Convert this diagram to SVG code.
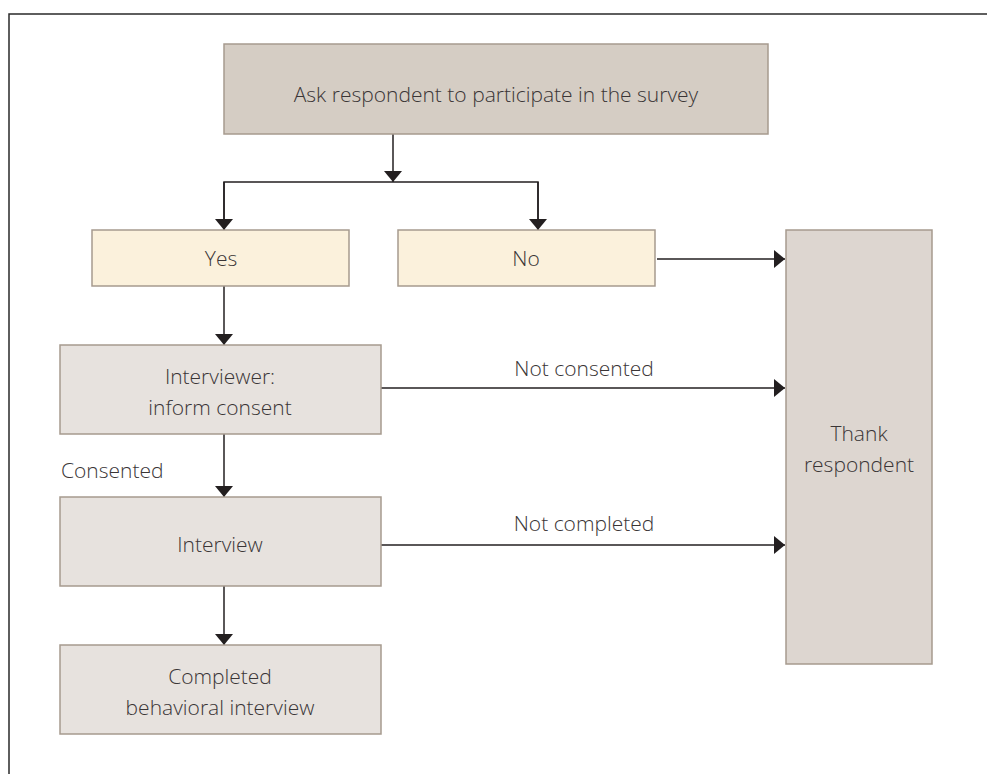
<svg xmlns="http://www.w3.org/2000/svg" width="987" height="774" viewBox="0 0 987 774">
<style>
text{font-family:"Open Sans","Liberation Sans",sans-serif;font-weight:300;font-size:21px;fill:#3a3536;text-anchor:middle}
.lbl{text-anchor:start}
.box{stroke:#a69a8e;stroke-width:1.5}
.top{fill:#d5cdc4}
.yn{fill:#fbf1dc}
.mid{fill:#e7e2de}
.thank{fill:#ddd6d0}
.ln{fill:none;stroke:#231f20;stroke-width:1.5}
</style>
<defs>
<marker id="ah" markerWidth="11" markerHeight="18" refX="11" refY="9" orient="auto" markerUnits="userSpaceOnUse">
<path d="M0,0 L11,9 L0,18 Z" fill="#231f20"/>
</marker>
</defs>
<rect width="987" height="774" fill="#fff"/>
<path d="M9,774 V14 H987" fill="none" stroke="#2a2a2a" stroke-width="1.5"/>
<g id="connectors">
<path class="ln" d="M393,134 V182" marker-end="url(#ah)"/>
<path class="ln" d="M224,230 V182 H538 V230" />
<path class="ln" d="M224,182 V230" marker-end="url(#ah)"/>
<path class="ln" d="M538,182 V230" marker-end="url(#ah)"/>
<path class="ln" d="M657,259 H785" marker-end="url(#ah)"/>
<path class="ln" d="M224,286 V345" marker-end="url(#ah)"/>
<path class="ln" d="M381,388 H785" marker-end="url(#ah)"/>
<path class="ln" d="M224,434 V497" marker-end="url(#ah)"/>
<path class="ln" d="M381,545 H785" marker-end="url(#ah)"/>
<path class="ln" d="M224,586 V645" marker-end="url(#ah)"/>
<text x="584" y="376">Not consented</text>
<text x="584" y="531">Not completed</text>
<text class="lbl" x="61" y="478">Consented</text>
</g>
<g id="ask">
<rect class="box top" x="224" y="44" width="544" height="90"/>
<text x="496" y="102">Ask respondent to participate in the survey</text>
</g>
<g id="yes">
<rect class="box yn" x="92" y="230" width="257" height="56"/>
<text x="221" y="266">Yes</text>
</g>
<g id="no">
<rect class="box yn" x="398" y="230" width="257" height="56"/>
<text x="526" y="266">No</text>
</g>
<g id="consent">
<rect class="box mid" x="60" y="345" width="321" height="89"/>
<text x="220" y="384">Interviewer:</text>
<text x="220" y="415">inform consent</text>
</g>
<g id="interview">
<rect class="box mid" x="60" y="497" width="321" height="89"/>
<text x="220" y="552">Interview</text>
</g>
<g id="completed">
<rect class="box mid" x="60" y="645" width="321" height="89"/>
<text x="220" y="684">Completed</text>
<text x="220" y="715">behavioral interview</text>
</g>
<g id="thank">
<rect class="box thank" x="786" y="230" width="146" height="434"/>
<text x="859" y="441">Thank</text>
<text x="859" y="472">respondent</text>
</g>
</svg>
